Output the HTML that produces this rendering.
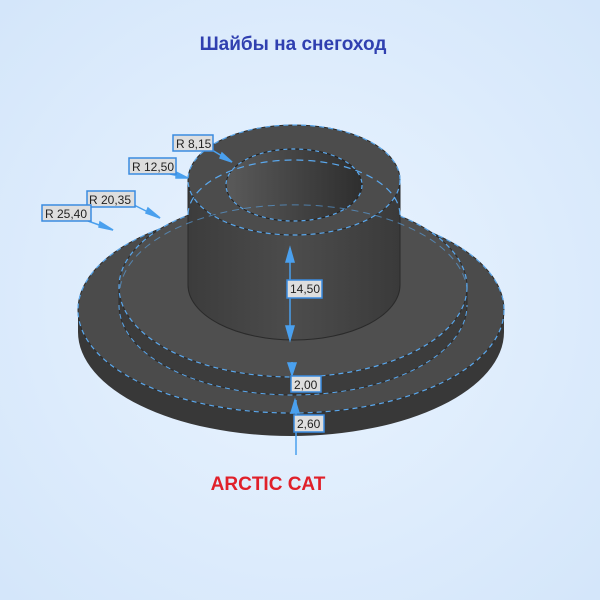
<!DOCTYPE html>
<html><head><meta charset="utf-8"><style>
body{margin:0;width:600px;height:600px;overflow:hidden;background:#dfeefc}
svg{display:block}
</style></head><body>
<svg width="600" height="600" viewBox="0 0 600 600" xmlns="http://www.w3.org/2000/svg">
<defs>
<radialGradient id="bg" cx="50%" cy="50%" r="70%"><stop offset="0" stop-color="#eaf4ff"/><stop offset="1" stop-color="#d4e6fa"/></radialGradient>
<linearGradient id="cyl" x1="0" x2="1"><stop offset="0" stop-color="#3c3c3c"/><stop offset="0.5" stop-color="#4c4c4c"/><stop offset="1" stop-color="#3a3a3a"/></linearGradient>
<linearGradient id="hole" x1="0" x2="1"><stop offset="0" stop-color="#5a5a5a"/><stop offset="1" stop-color="#2e2e2e"/></linearGradient>
</defs>
<rect width="600" height="600" fill="url(#bg)"/>
<text x="293" y="50" text-anchor="middle" font-family="Liberation Sans, sans-serif" font-weight="bold" font-size="19" fill="#3040b0">Шайбы на снегоход</text>
<path d="M78 310 L78 332 A213 104 0 0 0 504 332 L504 310 Z" fill="#383838"/>
<ellipse cx="291" cy="310" rx="213" ry="103" fill="#4b4b4b" stroke="#2c2c2c"/>
<ellipse cx="291" cy="310" rx="213" ry="103" fill="none" stroke="#5aa8ee" stroke-width="1.2" stroke-dasharray="5,4"/>
<path d="M119 287 L119 305 A174 90 0 0 0 467 305 L467 287 Z" fill="#3c3c3c" stroke="#2c2c2c"/>
<ellipse cx="293" cy="287" rx="174" ry="90" fill="#4f4f4f" stroke="#2c2c2c"/>
<ellipse cx="293" cy="287" rx="174" ry="90" fill="none" stroke="#5aa8ee" stroke-width="1.2" stroke-dasharray="5,4"/>
<path d="M119 305 A174 90 0 0 0 467 305" fill="none" stroke="#5aa8ee" stroke-width="1" stroke-dasharray="5,4"/>
<path d="M188 180 L188 285 A106 55 0 0 0 400 285 L400 180 Z" fill="url(#cyl)" stroke="#2a2a2a"/>
<ellipse cx="294" cy="180" rx="106" ry="55" fill="#4c4c4c" stroke="#2a2a2a"/>
<ellipse cx="294" cy="180" rx="106" ry="55" fill="none" stroke="#5aa8ee" stroke-width="1.2" stroke-dasharray="5,4"/>
<ellipse cx="294" cy="185" rx="68" ry="36" fill="url(#hole)" stroke="#222"/>
<ellipse cx="294" cy="185" rx="68" ry="36" fill="none" stroke="#5aa8ee" stroke-width="1.2" stroke-dasharray="4,4"/>
<path d="M188 215 A106 55 0 0 1 400 215" fill="none" stroke="#5aa8ee" stroke-width="1.2" stroke-dasharray="7,5"/>
<path d="M120 288 A174 90 0 0 1 467 288" fill="none" stroke="#5aa8ee" stroke-width="1" stroke-dasharray="7,5" opacity="0.6"/>
<g stroke="#4aa0ee" stroke-width="1.5" fill="#4aa0ee">
<line x1="212" y1="150" x2="232" y2="162"/><polygon points="232,162 222,153 220,158"/>
<line x1="170" y1="174" x2="188" y2="178"/><polygon points="188,178 176,172 176,178"/>
<line x1="134" y1="205" x2="160" y2="218"/><polygon points="160,218 148,208 146,213"/>
<line x1="88" y1="221" x2="113" y2="230"/><polygon points="113,230 100,222 99,227"/>
<line x1="290" y1="248" x2="290" y2="340"/><polygon points="290,248 286,262 294,262"/><polygon points="290,340 286,326 294,326"/>
<polygon points="292,375 288,363 296,363"/><line x1="292" y1="362" x2="292" y2="375"/>
<polygon points="295,400 291,413 299,413"/><line x1="296" y1="400" x2="296" y2="455"/>
</g>
<g font-family="Liberation Sans, sans-serif" font-size="12" fill="#222">
<rect x="173" y="135" width="40" height="16" fill="#dedede" stroke="#3a8be0" stroke-width="1.5"/><text x="176" y="148">R 8,15</text>
<rect x="129" y="158" width="47" height="16" fill="#dedede" stroke="#3a8be0" stroke-width="1.5"/><text x="132" y="171">R 12,50</text>
<rect x="87" y="191" width="48" height="16" fill="#dedede" stroke="#3a8be0" stroke-width="1.5"/><text x="89" y="204">R 20,35</text>
<rect x="42" y="205" width="49" height="16" fill="#dedede" stroke="#3a8be0" stroke-width="1.5"/><text x="45" y="218">R 25,40</text>
<rect x="287" y="280" width="35" height="18" fill="#dedede" stroke="#3a8be0" stroke-width="1.5"/><text x="290" y="293">14,50</text>
<rect x="291" y="376" width="30" height="16" fill="#dedede" stroke="#3a8be0" stroke-width="1.5"/><text x="294" y="389">2,00</text>
<rect x="294" y="415" width="30" height="17" fill="#dedede" stroke="#3a8be0" stroke-width="1.5"/><text x="297" y="428">2,60</text>
</g>
<text x="268" y="490" text-anchor="middle" font-family="Liberation Sans, sans-serif" font-weight="bold" font-size="19" fill="#e0202a">ARCTIC CAT</text>
</svg>
</body></html>
